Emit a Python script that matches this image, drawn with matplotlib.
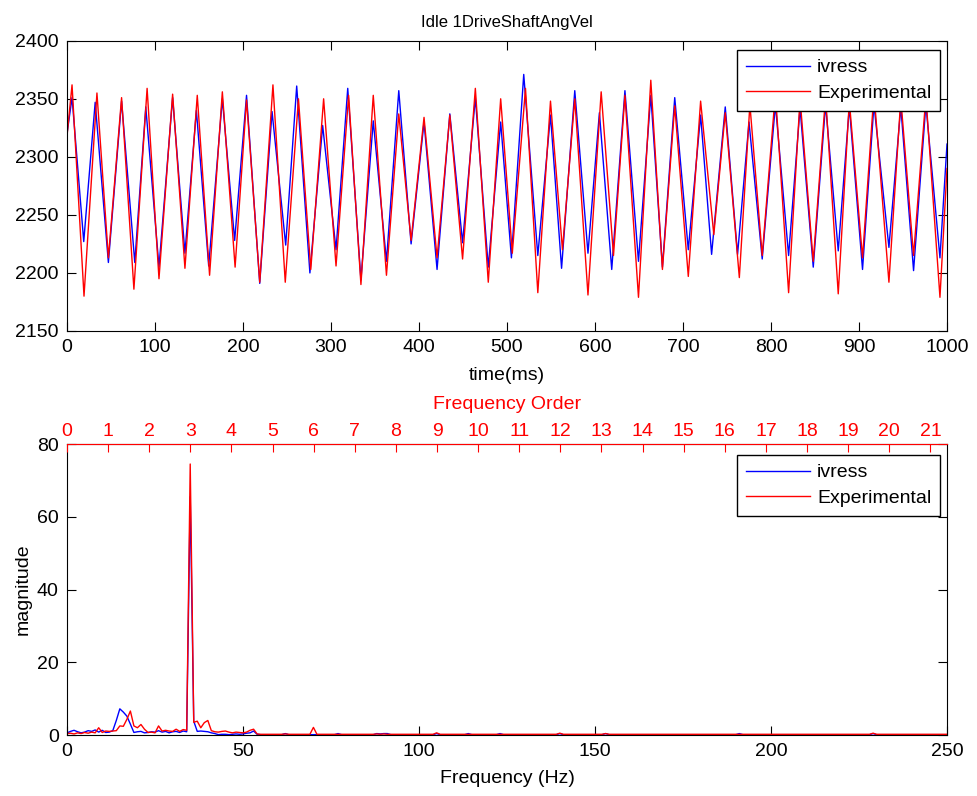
import matplotlib.pyplot as plt

plt.rcParams['font.family'] = ['Liberation Sans', 'DejaVu Sans']
plt.rcParams['font.size'] = 14

# time trace: turning points (ms, value)
exp_t = [0, 5.7, 19.3, 34, 47, 62, 76, 91, 104.5, 120, 134, 148, 162, 176.5, 191, 204, 219, 234,
         248, 263, 277, 291.6, 305.7, 320, 334, 348, 363, 377, 391, 405.7, 420.5, 435, 449.5, 464,
         478.7, 492.8, 506, 521, 535, 549.4, 563, 577, 592, 607, 621, 634, 649.4, 663.4, 676.6,
         690.6, 706, 720, 735, 748, 764, 776, 790, 805, 820, 833, 848, 862, 876.4, 889, 904, 917,
         934, 947.5, 962, 976, 992, 1000]
exp_v = [2318, 2362, 2180, 2355, 2213, 2351, 2186, 2359, 2195, 2354, 2204, 2353, 2198, 2356, 2205,
         2349, 2192, 2362, 2192, 2350, 2203, 2350, 2206, 2353, 2190, 2353, 2198, 2337, 2228, 2334,
         2213, 2336, 2212, 2359, 2192, 2350, 2217, 2359, 2183, 2348, 2220, 2350, 2181, 2356, 2215,
         2353, 2179, 2366, 2203, 2344, 2197, 2348, 2233, 2338, 2196, 2345, 2215, 2355, 2183, 2350,
         2210, 2352, 2182, 2348, 2213, 2355, 2192, 2350, 2215, 2352, 2179, 2290]

ivr_t = [0, 5.7, 19, 32, 47, 62, 77, 89.5, 104.5, 120, 134, 147, 161, 176.5, 190.5, 204, 219, 233,
         248.5, 261, 276, 290.5, 305.7, 319, 334, 348, 363, 377, 391, 405.7, 420.5, 435, 449.5, 464,
         478.7, 492.8, 505, 519, 535, 549.4, 562, 577, 592, 605, 619, 634, 649.4, 663.4, 676.6,
         690.6, 706, 720, 732.5, 748, 762, 775, 790, 805, 820, 833, 848, 862, 876.4, 889, 904, 917,
         934, 947.5, 962, 976, 992, 1000]
ivr_v = [2320, 2351, 2227, 2347, 2209, 2348, 2209, 2343, 2205, 2351, 2217, 2340, 2206, 2350, 2228,
         2353, 2191, 2339, 2224, 2361, 2200, 2327, 2220, 2359, 2194, 2331, 2210, 2357, 2225, 2330,
         2203, 2337, 2226, 2351, 2205, 2330, 2213, 2371, 2215, 2336, 2204, 2357, 2217, 2338, 2203,
         2357, 2210, 2353, 2205, 2351, 2220, 2336, 2216, 2343, 2216, 2330, 2212, 2345, 2215, 2342,
         2205, 2345, 2219, 2343, 2203, 2345, 2222, 2343, 2202, 2345, 2213, 2311]

# spectrum, 1 Hz bins 0..55
spec_freq = list(range(56))
spec_ivress = [0.6, 1.0, 1.3, 0.9, 0.6, 0.8, 1.2, 1.0, 1.4, 0.8,
               1.3, 0.7, 0.8, 1.2, 4.0, 7.2, 6.3, 5.2, 3.0, 0.7,
               0.9, 1.0, 0.6, 0.7, 0.9, 0.8, 1.2, 0.8, 1.0, 0.6,
               0.9, 1.0, 0.7, 1.1, 0.9, 65.5, 3.8, 1.0, 1.1, 1.0,
               0.9, 0.6, 0.4, 0.1, 0.2, 0.2, 0.1, 0.2, 0.3, 0.2,
               0.3, 0.5, 0.6, 1.1, 0.2, 0.1]
spec_exp = [0.4, 0.5, 0.3, 0.6, 0.4, 0.7, 0.5, 0.8, 0.6, 2.0,
            0.7, 1.1, 1.0, 1.1, 1.2, 2.5, 2.4, 4.3, 6.6, 2.5,
            2.0, 2.9, 1.6, 0.7, 0.8, 0.6, 2.5, 1.1, 1.3, 1.1,
            1.0, 1.6, 1.0, 1.5, 1.3, 74.5, 3.5, 3.8, 2.0, 3.4,
            4.0, 1.2, 0.9, 0.8, 1.0, 1.1, 0.8, 0.6, 0.8, 0.7,
            0.6, 0.8, 1.3, 1.6, 0.3, 0.2]

# flat tail above 55 Hz, only the small blips
tail_freq = [56, 61, 62, 63, 69, 70, 71, 76, 77, 78, 87, 88, 89, 90, 91, 92, 104, 105, 106,
             113, 114, 115, 122, 123, 124, 139, 140, 141, 152, 153, 154, 190, 191, 192, 228, 229, 230, 250]
tail_ivress = [0.1, 0.1, 0.4, 0.1, 0.1, 0.1, 0.1, 0.1, 0.4, 0.1, 0.1, 0.4, 0.3, 0.4, 0.4, 0.1, 0.1, 0.4, 0.1,
               0.1, 0.4, 0.1, 0.1, 0.4, 0.1, 0.1, 0.4, 0.1, 0.1, 0.4, 0.1, 0.1, 0.4, 0.1, 0.1, 0.4, 0.1, 0.1]
tail_exp = [0.2, 0.2, 0.3, 0.2, 0.2, 2.1, 0.2, 0.2, 0.2, 0.2, 0.2, 0.3, 0.2, 0.3, 0.2, 0.2, 0.2, 0.6, 0.2,
            0.2, 0.2, 0.2, 0.2, 0.2, 0.2, 0.2, 0.5, 0.2, 0.2, 0.4, 0.2, 0.2, 0.2, 0.2, 0.2, 0.5, 0.2, 0.2]

hz_per_order = 11.68
order_ticks = list(range(22))


def style_axes(ax):
    ax.tick_params(direction='in', top=True, right=True, length=6.5, width=0.8, pad=6)
    for s in ax.spines.values():
        s.set_linewidth(0.8)


def add_legend(ax, y_top):
    ax.legend(loc='upper right', bbox_to_anchor=(0.9621, y_top), bbox_transform=fig.transFigure,
              borderaxespad=0, fancybox=False, edgecolor='black', framealpha=1,
              handlelength=3.3, handletextpad=0.35, labelspacing=0.42, borderpad=0.45)


fig = plt.figure(figsize=(9.77, 7.96), dpi=100)

# time trace
ax1 = fig.add_axes([0.0686, 0.5842, 0.9007, 0.3646])
ax1.plot(ivr_t, ivr_v, color='b', lw=1.0, label='ivress')
ax1.plot(exp_t, exp_v, color='r', lw=1.0, label='Experimental')
ax1.set_xlim(0, 1000)
ax1.set_ylim(2150, 2400)
ax1.set_xticks(range(0, 1001, 100))
ax1.set_yticks(range(2150, 2401, 50))
ax1.set_xlabel('time(ms)', labelpad=8)
ax1.set_title('Idle 1DriveShaftAngVel', fontsize=12, pad=10)
style_axes(ax1)
add_legend(ax1, 0.9372)

# spectrum
ax2 = fig.add_axes([0.0686, 0.0766, 0.9007, 0.3656])
ax2.plot(spec_freq + tail_freq, spec_ivress + tail_ivress, color='b', lw=1.0, label='ivress')
ax2.plot(spec_freq + tail_freq, spec_exp + tail_exp, color='r', lw=1.0, label='Experimental')
ax2.set_xlim(0, 250)
ax2.set_ylim(0, 80)
ax2.set_xticks(range(0, 251, 50))
ax2.set_yticks(range(0, 81, 20))
ax2.set_xlabel('Frequency (Hz)', labelpad=7)
ax2.set_ylabel('magnitude', labelpad=4)
style_axes(ax2)
add_legend(ax2, 0.4284)

# engine order axis on top
ax3 = ax2.twiny()
ax3.set_xlim(0, 250 / hz_per_order)
ax3.set_xticks(order_ticks)
ax3.tick_params(axis='x', colors='r', direction='in', length=6, width=0.8, pad=3)
ax3.set_xlabel('Frequency Order', color='r', labelpad=10)
for name, s in ax3.spines.items():
    if name == 'top':
        s.set_color('r')
        s.set_linewidth(0.8)
    else:
        s.set_visible(False)

fig.savefig('out.png', dpi=100)
